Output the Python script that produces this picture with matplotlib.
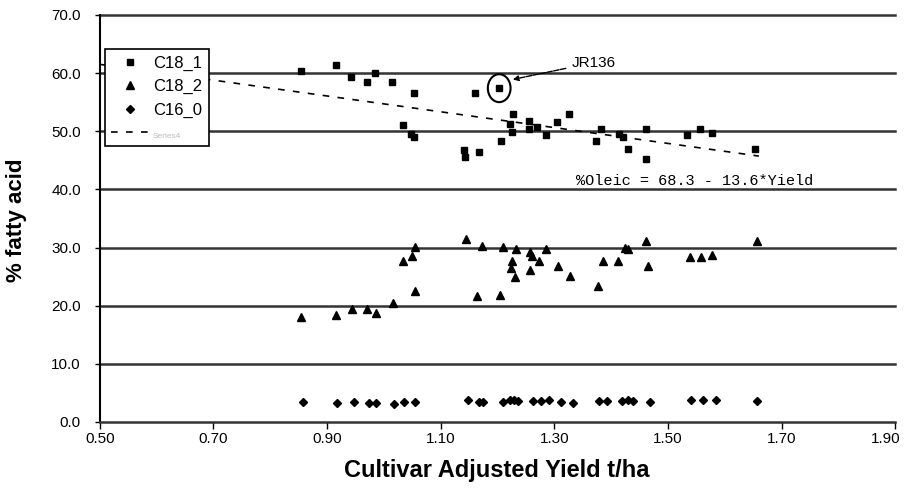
import numpy as np
import matplotlib
matplotlib.use('Agg')
import matplotlib.pyplot as plt
import matplotlib.transforms as mtransforms
from matplotlib.patches import Ellipse

plt.rcParams['font.family'] = ['Liberation Sans', 'DejaVu Sans']

# C18_1 (oleic)
c18_1_x = [0.855, 0.915, 0.943, 0.970, 0.984, 1.014, 1.053, 1.033, 1.048, 1.053,
           1.161, 1.203, 1.141, 1.143, 1.168, 1.207, 1.227, 1.222, 1.226, 1.255,
           1.256, 1.269, 1.285, 1.305, 1.326, 1.374, 1.383, 1.413, 1.421, 1.429,
           1.462, 1.461, 1.534, 1.556, 1.577, 1.653]
c18_1_y = [60.3, 61.3, 59.3, 58.5, 60.0, 58.5, 56.5, 51.1, 49.6, 49.0,
           56.5, 57.4, 46.8, 45.6, 46.5, 48.4, 53.0, 51.3, 49.8, 51.8,
           50.3, 50.7, 49.4, 51.5, 53.0, 48.4, 50.4, 49.6, 49.0, 46.9,
           50.4, 45.2, 49.4, 50.4, 49.7, 46.9]

# C18_2 (linoleic)
c18_2_x = [0.854, 0.915, 0.944, 0.970, 0.986, 1.016, 1.034, 1.049, 1.055, 1.055,
           1.144, 1.164, 1.172, 1.204, 1.209, 1.226, 1.224, 1.231, 1.232, 1.257,
           1.260, 1.273, 1.258, 1.286, 1.307, 1.327, 1.377, 1.386, 1.412, 1.424,
           1.430, 1.462, 1.465, 1.538, 1.558, 1.578, 1.656]
c18_2_y = [18.1, 18.4, 19.4, 19.4, 18.7, 20.5, 27.6, 28.6, 30.1, 22.6,
           31.5, 21.6, 30.3, 21.9, 30.1, 27.6, 26.5, 25.0, 29.7, 29.3,
           28.5, 27.6, 26.2, 29.7, 26.9, 25.1, 23.4, 27.6, 27.6, 29.9,
           29.7, 31.2, 26.9, 28.3, 28.3, 28.7, 31.2]

# C16_0 (palmitic)
c16_0_x = [0.857, 0.918, 0.947, 0.974, 0.986, 1.017, 1.036, 1.055, 1.148, 1.168,
           1.175, 1.209, 1.222, 1.229, 1.236, 1.263, 1.277, 1.290, 1.311, 1.333,
           1.378, 1.392, 1.419, 1.429, 1.439, 1.468, 1.541, 1.561, 1.585, 1.656]
c16_0_y = [3.4, 3.2, 3.4, 3.2, 3.2, 3.1, 3.5, 3.5, 3.8, 3.5,
           3.5, 3.5, 3.8, 3.7, 3.6, 3.6, 3.6, 3.8, 3.5, 3.3,
           3.6, 3.6, 3.6, 3.7, 3.6, 3.4, 3.7, 3.7, 3.7, 3.6]

# regression for oleic
fit_a, fit_b = 68.3, -13.6
fit_x = [0.50, 1.66]

x_ticks = [0.50, 0.70, 0.90, 1.10, 1.30, 1.50, 1.70, 1.90]
y_ticks = [0, 10, 20, 30, 40, 50, 60, 70]

fig = plt.figure(figsize=(9.07, 4.97), dpi=100)
ax = fig.add_axes([0.110, 0.151, 0.877, 0.819])

for yt in y_ticks[1:]:
    ax.axhline(yt, color='#333333', lw=1.8, zorder=1, clip_on=False)

ax.plot(c18_1_x, c18_1_y, 's', color='black', ms=5, label='C18_1', zorder=3)
ax.plot(c18_2_x, c18_2_y, '^', color='black', ms=5.5, label='C18_2', zorder=3)
ax.plot(c16_0_x, c16_0_y, 'D', color='black', ms=4, label='C16_0', zorder=3)
fx = np.array(fit_x)
ax.plot(fx, fit_a + fit_b * fx, color='black', lw=1.2, ls=(0, (4, 5)),
        label='Series4', zorder=2)

ax.set_xlim(0.5, 1.9)
ax.set_ylim(0, 70)
ax.set_xticks(x_ticks)
ax.set_xticklabels(['%.2f' % v for v in x_ticks], fontsize=11)
ax.set_yticks(y_ticks)
ax.set_yticklabels(['%.1f' % v for v in y_ticks], fontsize=11)
ax.tick_params(axis='both', direction='out', width=1, colors='black')
ax.tick_params(axis='x', length=5, pad=2)
ax.tick_params(axis='y', length=3.6, pad=10)

# last x label sits against the right edge, nudge it inwards
last = ax.get_xticklabels()[-1]
last.set_transform(last.get_transform() +
                   mtransforms.ScaledTranslation(-10 / 100, 0, fig.dpi_scale_trans))

for s in ['top', 'right']:
    ax.spines[s].set_visible(False)
ax.spines['left'].set_linewidth(1.5)
ax.spines['bottom'].set_linewidth(1.8)
ax.spines['bottom'].set_color('#333333')

fig.text(497 / 907, 1 - 470 / 497, 'Cultivar Adjusted Yield t/ha', fontsize=17,
         fontweight='bold', ha='center', va='center')
fig.text(17 / 907, 1 - 220 / 497, '% fatty acid', fontsize=16, fontweight='bold',
         rotation=90, ha='center', va='center')

# circled outlier and its label
ax.add_patch(Ellipse((1.203, 57.4), 0.040, 4.8, fill=False, ec='black', lw=1.5, zorder=4))
ax.annotate('JR136', xy=(1.227, 58.9), xytext=(1.33, 61.8), fontsize=11,
            va='center', ha='left',
            arrowprops=dict(arrowstyle='-|>', color='black', lw=1, ls=(0, (4, 1)),
                            shrinkA=2, shrinkB=0, mutation_scale=8))

ax.text(1.338, 41.4, '%Oleic = 68.3 - 13.6*Yield', fontsize=11,
        family=['Liberation Mono', 'DejaVu Sans Mono'], ha='left', va='center')

leg = ax.legend(loc='upper left', bbox_to_anchor=(0.0063, 0.9165), borderaxespad=0,
                fontsize=12, frameon=True, fancybox=False, edgecolor='black',
                framealpha=1, borderpad=0.4, labelspacing=0.5, handlelength=2.2,
                handletextpad=0.3)
leg.get_frame().set_linewidth(1.2)
leg.set_zorder(5)
for t in leg.get_texts():
    if t.get_text() == 'Series4':
        t.set_color('#bbbbbb')
        t.set_fontsize(6)

fig.savefig('out.png', dpi=100)
